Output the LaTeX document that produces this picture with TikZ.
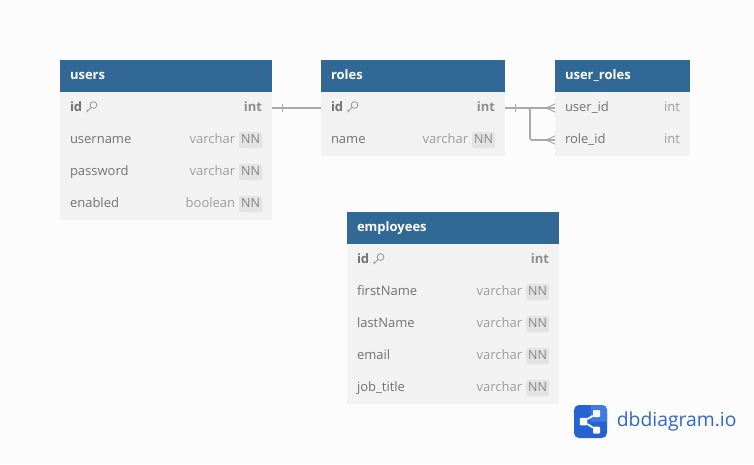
\documentclass[tikz,border=0pt]{standalone}
\usepackage{fontspec}
\setmainfont{Open Sans}
\usetikzlibrary{positioning}
\definecolor{pagebg}{HTML}{FCFCFC}
\definecolor{headblue}{HTML}{316896}
\definecolor{rowgray}{HTML}{F2F2F2}
\definecolor{badgegray}{HTML}{E3E3E3}
\definecolor{nametext}{HTML}{727272}
\definecolor{typetext}{HTML}{9C9C9C}
\definecolor{relgray}{HTML}{A9A9B0}
\definecolor{logoblue}{HTML}{2563D0}
\definecolor{logodark}{HTML}{3F7BE0}
\definecolor{logotext}{HTML}{2E69C8}
\tikzset{
	headbox/.style={fill=headblue, text=white, font=\fontsize{13}{15}\selectfont\bfseries, anchor=north west, align=left, outer sep=0pt, inner xsep=10pt, inner ysep=0pt, minimum height=32pt, text width=#1, text height=9.5pt, text depth=2.5pt},
	rowbox/.style={fill=rowgray, text=nametext, font=\fontsize{13}{15}\selectfont, align=left, outer sep=0pt, inner xsep=10pt, inner ysep=0pt, minimum height=32pt, text width=#1, text height=9.2pt, text depth=2.8pt},
	typelabel/.style={text=typetext, font=\fontsize{13}{15}\selectfont, outer sep=0pt, inner sep=0pt, text height=9.2pt, text depth=2.8pt},
	pklabel/.style={typelabel, text=typetext!90!black, font=\fontsize{13}{15}\selectfont\bfseries},
	badge/.style={fill=badgegray, text=typetext!85!black, rounded corners=1.5pt, font=\fontsize{12.5}{15}\selectfont, outer sep=0pt, inner xsep=2pt, inner ysep=0pt, minimum height=16pt, text height=9.2pt, text depth=2.8pt},
	relline/.style={draw=relgray, line width=1.8pt},
	relthin/.style={draw=relgray, line width=1pt},
	keyicon/.pic={
		\draw[typetext!90!black, line width=0.7pt] (2.5,-2) circle (3.4pt);
		\draw[typetext!90!black, line width=0.7pt] (0.2,0.3) -- (-4,4.5) -- (-4.2,2.6);
	}
}
\begin{document}
\begin{tikzpicture}[x=1pt,y=-1pt]
	\fill[pagebg] (0,0) rectangle (754,464);
	\useasboundingbox (0,0) rectangle (754,464);

	% users
	\node (users) [headbox=192pt] at (60,60) {users};
	\node (users-id) [rowbox=192pt, below=0pt of users] {\textbf{id}};
	\node (users-username) [rowbox=192pt, below=0pt of users-id] {username};
	\node (users-password) [rowbox=192pt, below=0pt of users-username] {password};
	\node (users-enabled) [rowbox=192pt, below=0pt of users-password] {enabled};
	\pic at ([xshift=31pt,yshift=1pt]users-id.west) {keyicon};
	\node (users-id-type) [pklabel, left=10pt of users-id.east] {int};
	\node (users-username-nn) [badge, left=10pt of users-username.east] {NN};
	\node (users-username-type) [typelabel, left=4pt of users-username-nn] {varchar};
	\node (users-password-nn) [badge, left=10pt of users-password.east] {NN};
	\node (users-password-type) [typelabel, left=4pt of users-password-nn] {varchar};
	\node (users-enabled-nn) [badge, left=10pt of users-enabled.east] {NN};
	\node (users-enabled-type) [typelabel, left=4pt of users-enabled-nn] {boolean};

	% roles
	\node (roles) [headbox=164pt] at (321,60) {roles};
	\node (roles-id) [rowbox=164pt, below=0pt of roles] {\textbf{id}};
	\node (roles-name) [rowbox=164pt, below=0pt of roles-id] {name};
	\pic at ([xshift=31pt,yshift=1pt]roles-id.west) {keyicon};
	\node (roles-id-type) [pklabel, left=10pt of roles-id.east] {int};
	\node (roles-name-nn) [badge, left=10pt of roles-name.east] {NN};
	\node (roles-name-type) [typelabel, left=4pt of roles-name-nn] {varchar};

	% user_roles
	\node (userroles) [headbox=115pt] at (555,60) {user\_roles};
	\node (userroles-userid) [rowbox=115pt, below=0pt of userroles] {user\_id};
	\node (userroles-roleid) [rowbox=115pt, below=0pt of userroles-userid] {role\_id};
	\node (userroles-userid-type) [typelabel, left=10pt of userroles-userid.east] {int};
	\node (userroles-roleid-type) [typelabel, left=10pt of userroles-roleid.east] {int};

	% employees
	\node (employees) [headbox=192pt] at (347,212) {employees};
	\node (employees-id) [rowbox=192pt, below=0pt of employees] {\textbf{id}};
	\node (employees-firstname) [rowbox=192pt, below=0pt of employees-id] {firstName};
	\node (employees-lastname) [rowbox=192pt, below=0pt of employees-firstname] {lastName};
	\node (employees-email) [rowbox=192pt, below=0pt of employees-lastname] {email};
	\node (employees-jobtitle) [rowbox=192pt, below=0pt of employees-email] {job\_title};
	\pic at ([xshift=31pt,yshift=1pt]employees-id.west) {keyicon};
	\node (employees-id-type) [pklabel, left=10pt of employees-id.east] {int};
	\node (employees-firstname-nn) [badge, left=10pt of employees-firstname.east] {NN};
	\node (employees-firstname-type) [typelabel, left=4pt of employees-firstname-nn] {varchar};
	\node (employees-lastname-nn) [badge, left=10pt of employees-lastname.east] {NN};
	\node (employees-lastname-type) [typelabel, left=4pt of employees-lastname-nn] {varchar};
	\node (employees-email-nn) [badge, left=10pt of employees-email.east] {NN};
	\node (employees-email-type) [typelabel, left=4pt of employees-email-nn] {varchar};
	\node (employees-jobtitle-nn) [badge, left=10pt of employees-jobtitle.east] {NN};
	\node (employees-jobtitle-type) [typelabel, left=4pt of employees-jobtitle-nn] {varchar};

	% connect the tables
	\draw[relline] (users-id.east) -- (roles-id.west);
	\draw[relthin] ([xshift=10pt,yshift=4pt]users-id.east) -- ++(0,8);
	\draw[relline] (roles-id.east) -- (userroles-userid.west);
	\draw[relline, rounded corners=2pt] (roles-id.east) -- ++(25,0) |- (userroles-roleid.west);
	\draw[relthin] ([xshift=10pt,yshift=4pt]roles-id.east) -- ++(0,8);
	\draw[relthin] ([xshift=-9pt]userroles-userid.west) -- ++(9,-4);
	\draw[relthin] ([xshift=-9pt]userroles-userid.west) -- ++(9,4);
	\draw[relthin] ([xshift=-9pt]userroles-roleid.west) -- ++(9,-4);
	\draw[relthin] ([xshift=-9pt]userroles-roleid.west) -- ++(9,4);

	% logo
	\node (logo) [fill=logoblue, rounded corners=5pt, minimum size=33pt, inner sep=0pt] at (590.5,421.5) {};
	\node (logotitle) [right=9.5pt of logo, inner sep=0pt, text=logotext, font=\fontsize{19.3}{22}\selectfont] {dbdiagram.io};
	\fill[logodark] (590.5,405) [rounded corners=5pt] -- (607,405) [sharp corners] -- (607,421.5) -- (590.5,421.5) -- cycle;
	\node (logotop) [fill=white, rounded corners=1pt, minimum size=7pt, inner sep=0pt] at (596.5,413.5) {};
	\node (logoleft) [fill=white, rounded corners=1pt, minimum size=7.5pt, inner sep=0pt] at (583.5,421.5) {};
	\node (logobottom) [fill=white, rounded corners=1pt, minimum size=7pt, inner sep=0pt] at (596.5,430) {};
	\draw[white, line width=1.8pt] (logoleft) -- (logotop);
	\draw[white, line width=1.8pt] (logoleft) -- (logobottom);
\end{tikzpicture}
\end{document}
